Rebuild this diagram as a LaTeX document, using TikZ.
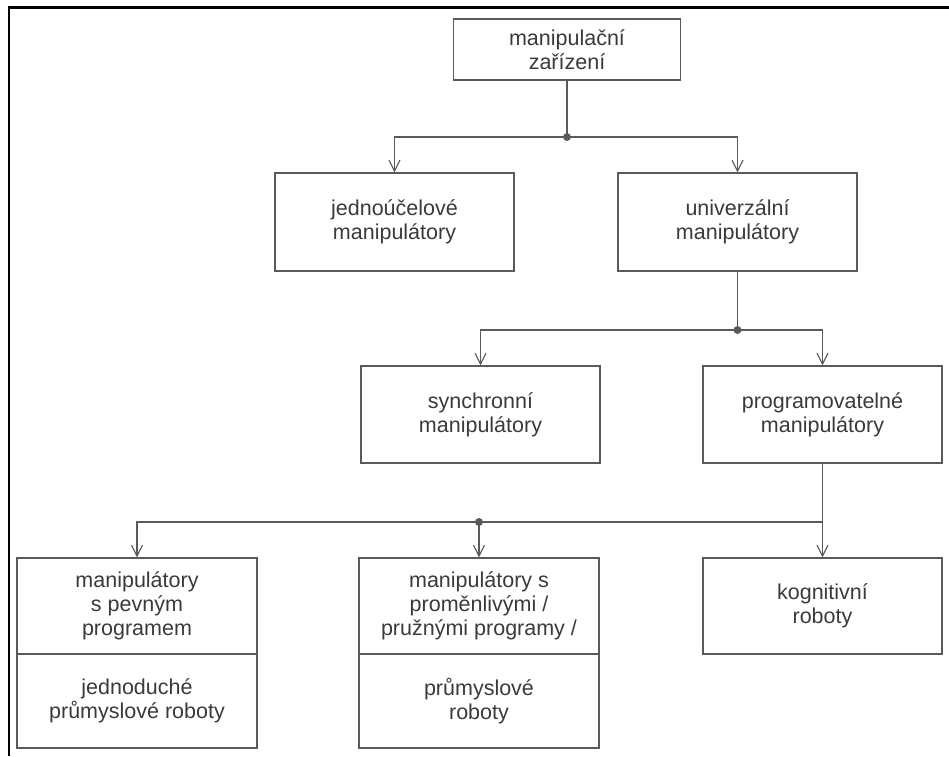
\documentclass[tikz,border=0pt]{standalone}
\usepackage{fontspec}
\setmainfont{Liberation Sans}
\usetikzlibrary{arrows.meta}
\definecolor{linegray}{HTML}{5A5A5A}
\definecolor{textgray}{HTML}{3A3A3A}
\begin{document}
\begin{tikzpicture}[x=1pt,y=-1pt,
  box/.style={draw=linegray, line width=1.3pt, rectangle, align=center,
    text=textgray, inner sep=2pt, minimum width=239pt, minimum height=97pt,
    font=\fontsize{21.5}{24}\selectfont},
  conn/.style={draw=linegray, line width=1.2pt},
  arr/.style={conn, -{Straight Barb[length=11pt,width=11pt,line width=1.1pt]}},
  dotj/.style={circle, fill=linegray, inner sep=0pt, minimum size=8pt}
]
\useasboundingbox (0,0) rectangle (949,756);
% outer frame (top and left)
\draw[black, line width=2.2pt] (9,7.5) -- (949,7.5);
\draw[black, line width=2.2pt] (9,6.4) -- (9,756);

% level 0
\node[box, minimum width=227pt, minimum height=61pt] (top) at (567,49.5) {manipulační\\zařízení};
% level 1
\node[box, minimum height=98pt] (jedno) at (394.5,222) {jednoúčelové\\manipulátory};
\node[box, minimum height=98pt] (univ) at (737.5,222) {univerzální\\manipulátory};
% level 2
\node[box] (sync) at (480.5,414.5) {synchronní\\manipulátory};
\node[box] (prog) at (822.5,414.5) {programovatelné\\manipulátory};
% level 3
\node[box, minimum width=240pt, minimum height=96pt] (pevU) at (137,606) {manipulátory\\s pevným\\programem};
\node[box, minimum width=240pt, minimum height=94pt] (pevL) at (137,701) {jednoduché\\průmyslové roboty};
\node[box, minimum width=240pt, minimum height=96pt] (promU) at (479,606) {manipulátory s\\proměnlivými /\\pružnými programy /};
\node[box, minimum width=240pt, minimum height=94pt] (promL) at (479,701) {průmyslové\\roboty};
\node[box, minimum height=96pt] (kogn) at (822.5,606) {kognitivní\\roboty};

% junctions
\coordinate (j1) at (top.south |- 0,137);
\coordinate (j2) at (univ.south |- 0,330);
\coordinate (j3) at (promU.north |- 0,522);
\coordinate (j3r) at (prog.south |- 0,522);

% connectors level 0 -> 1
\draw[conn] (top.south) -- (j1);
\draw[arr] (j1) -| (jedno.north);
\draw[arr] (j1) -| (univ.north);
\node[dotj] (d1) at (j1) {};
% level 1 -> 2
\draw[conn] (univ.south) -- (j2);
\draw[arr] (j2) -| (sync.north);
\draw[arr] (j2) -| (prog.north);
\node[dotj] (d2) at (j2) {};
% level 2 -> 3
\draw[arr] (prog.south) -- (kogn.north);
\draw[conn] (j3r) -- (j3);
\draw[arr] (j3) -| (pevU.north);
\draw[arr] (j3) -- (promU.north);
\node[dotj] (d3) at (j3) {};
\end{tikzpicture}
\end{document}
